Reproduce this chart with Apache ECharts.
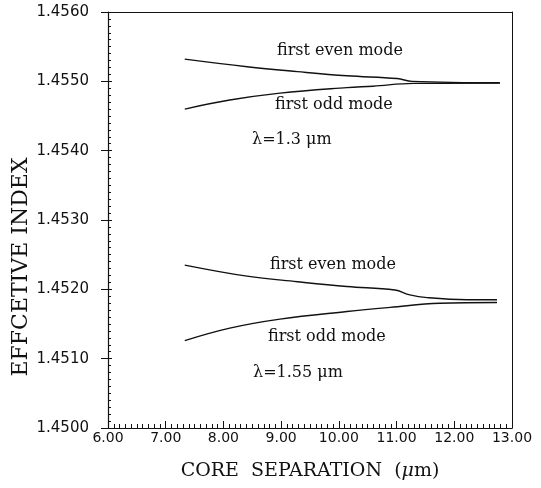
<!DOCTYPE html>
<html>
<head>
<meta charset="utf-8">
<script src="https://cdn.jsdelivr.net/npm/echarts@6/dist/echarts.min.js"></script>
<style>
  html, body { margin: 0; background: #fff; }
  #chart { width: 541px; height: 488px; }
</style>
</head>
<body>
<div id="chart"></div>
<script>
// core separation (um) and effective index
var sepEven13 = [7.33, 8.41, 9.28, 10.14, 11.01, 11.27, 12.79];
var even13    = [1.45532, 1.45521, 1.45514, 1.45508, 1.45504, 1.45500, 1.45498];
var sepOdd13  = [7.33, 8.11, 8.98, 10.14, 10.59, 11.29, 12.79];
var odd13     = [1.45460, 1.45473, 1.45483, 1.45491, 1.45493, 1.45497, 1.454975];

var sepEven155 = [7.33, 8.41, 9.28, 10.14, 10.97, 11.23, 11.53, 12.22, 12.74];
var even155    = [1.45235, 1.45219, 1.45211, 1.45204, 1.45199, 1.45192, 1.45188, 1.45185, 1.45185];
var sepOdd155  = [7.33, 8.11, 8.98, 10.14, 10.89, 11.75, 12.74];
var odd155     = [1.45126, 1.45144, 1.45157, 1.45168, 1.45174, 1.45180, 1.45181];

var xLabels = ['6.00', '7.00', '8.00', '9.00', '10.00', '11.00', '12.00', '13.00'];
var yLabels = ['1.4500', '1.4510', '1.4520', '1.4530', '1.4540', '1.4550', '1.4560'];

function pairs(xs, ys) {
    return xs.map(function (x, i) { return [x, ys[i]]; });
}

var ink = '#111';
var serif = '"DejaVu Serif", serif';
var sans = '"DejaVu Sans", sans-serif';

var chart = echarts.init(document.getElementById('chart'), null, { renderer: 'canvas' });

var xBase = { type: 'value', min: 6, max: 13, interval: 1, gridIndex: 0 };
var yBase = { type: 'value', min: 1.45, max: 1.456, interval: 0.001, gridIndex: 0, scale: true };

function lineSeries(xs, ys) {
    return {
        type: 'line',
        data: pairs(xs, ys),
        showSymbol: false,
        smooth: 0.4,
        lineStyle: { color: ink, width: 1.4 },
        xAxisIndex: 0,
        yAxisIndex: 0,
        silent: true
    };
}

chart.setOption({
    animation: false,
    backgroundColor: '#fff',
    grid: { left: 108, top: 12, right: 29, bottom: 60 },
    xAxis: [
        Object.assign({}, xBase, {
            position: 'bottom',
            name: 'CORE  SEPARATION  ({i|μ}m)',
            nameLocation: 'middle',
            nameGap: 34,
            nameTextStyle: {
                fontFamily: serif, fontSize: 19, color: ink,
                rich: { i: { fontFamily: serif, fontSize: 19, fontStyle: 'italic', color: ink } }
            },
            axisLine: { lineStyle: { color: ink, width: 1.2 } },
            axisTick: { inside: true, length: 7, lineStyle: { color: ink } },
            minorTick: { show: true, splitNumber: 10, length: 4, lineStyle: { color: ink } },
            axisLabel: {
                margin: 3, fontFamily: sans, fontSize: 14, color: ink,
                formatter: function (v) { return xLabels[Math.round(v - 6)]; }
            },
            splitLine: { show: false }
        }),
        Object.assign({}, xBase, {
            position: 'top',
            axisLine: { lineStyle: { color: ink, width: 1 } },
            axisTick: { show: false },
            axisLabel: { show: false },
            splitLine: { show: false }
        })
    ],
    yAxis: [
        Object.assign({}, yBase, {
            position: 'left',
            axisLine: { lineStyle: { color: ink, width: 1.2 } },
            axisTick: { inside: false, length: 7, lineStyle: { color: ink } },
            axisLabel: {
                margin: 19, fontFamily: sans, fontSize: 15, color: ink,
                formatter: function (v) { return yLabels[Math.round((v - 1.45) * 1000)]; }
            },
            splitLine: { show: false }
        }),
        Object.assign({}, yBase, {
            position: 'left',
            axisLine: { show: false },
            axisTick: { inside: true, length: 4, lineStyle: { color: ink } },
            minorTick: { show: true, splitNumber: 10, length: 3, lineStyle: { color: ink } },
            axisLabel: { show: false },
            splitLine: { show: false }
        }),
        Object.assign({}, yBase, {
            position: 'right',
            axisLine: { lineStyle: { color: ink, width: 1 } },
            axisTick: { show: false },
            axisLabel: { show: false },
            splitLine: { show: false }
        })
    ],
    series: [
        lineSeries(sepEven13, even13),
        lineSeries(sepOdd13, odd13),
        lineSeries(sepEven155, even155),
        lineSeries(sepOdd155, odd155)
    ],
    graphic: [
        { type: 'text', x: 277, y: 43, style: { text: 'first even mode', font: '16px ' + serif, fill: ink } },
        { type: 'text', x: 275, y: 97, style: { text: 'first odd mode', font: '16px ' + serif, fill: ink } },
        { type: 'text', x: 252, y: 132, style: { text: 'λ=1.3 μm', font: '16px ' + serif, fill: ink } },
        { type: 'text', x: 270, y: 257, style: { text: 'first even mode', font: '16px ' + serif, fill: ink } },
        { type: 'text', x: 268, y: 329, style: { text: 'first odd mode', font: '16px ' + serif, fill: ink } },
        { type: 'text', x: 253, y: 365, style: { text: 'λ=1.55 μm', font: '16px ' + serif, fill: ink } },
        {
            type: 'text', x: 21, y: 267, rotation: Math.PI / 2,
            style: {
                text: 'EFFCETIVE INDEX', font: '22px ' + serif, fill: ink,
                textAlign: 'center', textVerticalAlign: 'middle'
            }
        }
    ]
});
</script>
</body>
</html>
